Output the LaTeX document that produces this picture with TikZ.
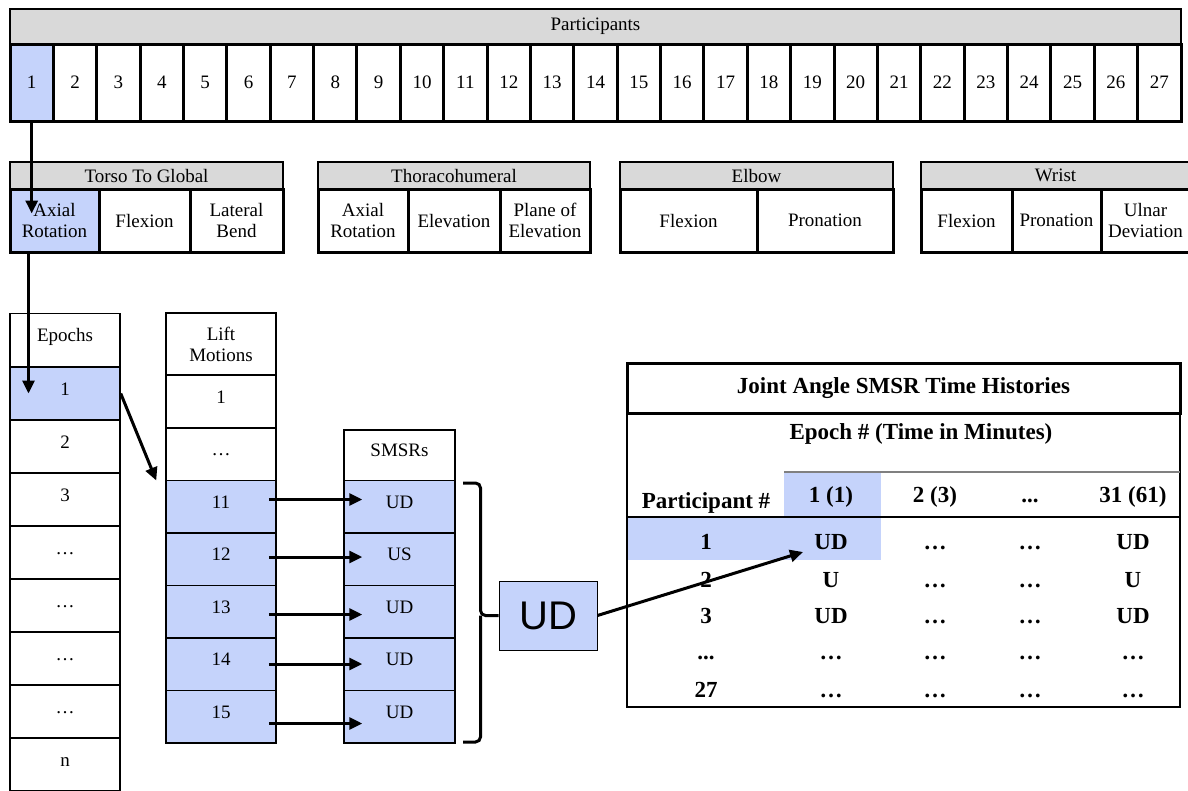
\documentclass[tikz,border=0pt]{standalone}
\usepackage{fontspec}
\setmainfont{Liberation Serif}
\newfontfamily\udfont{Liberation Sans}
\usetikzlibrary{arrows.meta,calc}
\definecolor{selblue}{RGB}{197,211,251}
\definecolor{hdrgray}{RGB}{217,217,217}
\tikzset{
  box/.style={draw, inner sep=0pt, align=center, font=\fontsize{19}{21}\selectfont},
  hdr/.style={box, fill=hdrgray, line width=1.5pt, minimum height=27pt},
  pcell/.style={box, line width=3pt, minimum width=43.37pt, minimum height=77pt},
  jcell/.style={box, line width=3pt, minimum height=63pt},
  ccell/.style={box, line width=1.5pt, minimum width=110pt, minimum height=53pt},
  raise/.style={text height=13pt, text depth=10pt},
  sel/.style={fill=selblue},
  arr/.style={line width=3pt, -{Triangle[length=13pt,width=12pt]}},
  tbl/.style={anchor=base, inner sep=0pt, font=\fontsize{23}{25}\selectfont\bfseries},
}

\begin{document}
\begin{tikzpicture}[x=1pt,y=-1pt]
\useasboundingbox (0,0) rectangle (1188,790);
\clip (0,0) rectangle (1188,790);

\node[hdr, minimum width=1171pt, minimum height=35pt] (parts) at (595.5,26.5) {Participants};
\node[pcell, sel] (p1) at (31.7,82.5) {1};
\foreach \i in {2,...,27}
  \node[pcell] (p\i) at ({10+43.37*(\i-0.5)},82.5) {\i};

\node[hdr, minimum width=273pt] (torso) at (146.5,175.5) {Torso To Global};
\node[jcell, sel, minimum width=89pt] (ax1) at (54.5,220.5) {Axial\\Rotation};
\node[jcell, minimum width=91pt] (flx1) at (144.5,220.5) {Flexion};
\node[jcell, minimum width=93pt] (lat1) at (236.5,220.5) {Lateral\\Bend};

\node[hdr, minimum width=272pt] (thor) at (454,175.5) {Thoracohumeral};
\node[jcell, minimum width=90pt] (ax2) at (363,220.5) {Axial\\Rotation};
\node[jcell, minimum width=92pt] (elev2) at (454,220.5) {Elevation};
\node[jcell, minimum width=90pt] (poe2) at (545,220.5) {Plane of\\Elevation};

\node[hdr, minimum width=273pt] (elbow) at (756.5,175.5) {Elbow};
\node[jcell, minimum width=137pt] (flx3) at (688.5,220.5) {Flexion};
\node[jcell, minimum width=136pt] (pro3) at (825,220.5) {Pronation};

\node[hdr, minimum width=269pt] (wrist) at (1055.5,175.5) {Wrist};
\node[jcell, minimum width=91pt] (flx4) at (966.5,220.5) {Flexion};
\node[jcell, minimum width=89pt] (pro4) at (1056.5,220.5) {Pronation};
\node[jcell, minimum width=89pt] (uln4) at (1145.5,220.5) {Ulnar\\Deviation};

\node[ccell, raise] (ep) at (65,340) {Epochs};
\node[ccell, raise, sel] (e1) at (65,393.5) {1};
\foreach \i/\t in {2/2,3/3,4/…,5/…,6/…,7/…,8/n}
  \node[ccell, raise] (e\i) at (65,{340.5+53*\i}) {\t};

\node[ccell, minimum height=62pt] (lm) at (221,344) {Lift\\Motions};
\node[ccell, raise, minimum height=52.5pt] (l1) at (221,401.5) {1};
\node[ccell, raise, minimum height=52.5pt] (l2) at (221,454) {…};
\foreach \i [count=\k] in {11,...,15}
  \node[ccell, raise, sel, minimum height=52.5pt] (l\i) at (221,{454+52.5*\k}) {\i};

\node[ccell, raise, minimum width=111pt, minimum height=50.5pt] (sm) at (399.5,455) {SMSRs};
\foreach \i/\t [count=\k] in {11/UD,12/US,13/UD,14/UD,15/UD}
  \node[ccell, raise, sel, minimum width=111pt, minimum height=52.5pt] (s\i) at (399.5,{454+52.5*\k}) {\t};

\foreach \i/\d in {11/-7,12/-2,13/3,14/0,15/7}
  \draw[arr] ([shift={(-8,\d)}]l\i.east) -- ([shift={(19,\d)}]s\i.west);

\node[draw, line width=1pt, sel, minimum width=98pt, minimum height=69pt, inner sep=0pt,
  font=\udfont\fontsize{40}{40}\selectfont] (ud) at (548,615.5) {UD};
\coordinate (btop) at (463,483);
\coordinate (bbot) at (463,742);
\draw[line width=3pt, rounded corners=5pt] (btop) -| ($(ud.west)+(-18,0)$) -- (ud.west);
\draw[line width=3pt, rounded corners=5pt] (bbot) -| ($(ud.west)+(-18,0)$);

\fill[selblue] (784,472) rectangle (881,517);
\fill[selblue] (628,517) rectangle (881,560);
\node[draw, line width=1.5pt, minimum width=553pt, minimum height=294pt, inner sep=0pt] (tbox) at (903.5,560) {};
\node[draw, line width=3pt, minimum width=553pt, minimum height=50pt, inner sep=0pt,
  font=\fontsize{23}{25}\selectfont\bfseries] (ttl) at (903.5,388) {Joint Angle SMSR Time Histories};
\draw[gray, line width=1.5pt] (784,472) -- (1180,472);
\draw[line width=1.5pt] (627,517) -- (1180,517);

\node[tbl] (teh) at (921,439) {Epoch \# (Time in Minutes)};
\node[tbl] (th0) at (706,508) {Participant \#};
\node[tbl] (th1) at (831,502) {1 (1)};
\node[tbl] (th2) at (935,502) {2 (3)};
\node[tbl] (th3) at (1030,502) {...};
\node[tbl] (th4) at (1133,502) {31 (61)};
\node[tbl] (t10) at (706,549) {1}; \node[tbl] (t11) at (831,549) {UD};
\node[tbl] (t12) at (935,549) {…}; \node[tbl] (t13) at (1030,549) {…}; \node[tbl] (t14) at (1133,549) {UD};
\node[tbl] (t20) at (706,587) {2}; \node[tbl] (t21) at (831,587) {U};
\node[tbl] (t22) at (935,587) {…}; \node[tbl] (t23) at (1030,587) {…}; \node[tbl] (t24) at (1133,587) {U};
\node[tbl] (t30) at (706,623) {3}; \node[tbl] (t31) at (831,623) {UD};
\node[tbl] (t32) at (935,623) {…}; \node[tbl] (t33) at (1030,623) {…}; \node[tbl] (t34) at (1133,623) {UD};
\node[tbl] (t40) at (706,659) {...}; \node[tbl] (t41) at (831,659) {…};
\node[tbl] (t42) at (935,659) {…}; \node[tbl] (t43) at (1030,659) {…}; \node[tbl] (t44) at (1133,659) {…};
\node[tbl] (t50) at (706,697) {27}; \node[tbl] (t51) at (831,697) {…};
\node[tbl] (t52) at (935,697) {…}; \node[tbl] (t53) at (1030,697) {…}; \node[tbl] (t54) at (1133,697) {…};

\draw[arr] (p1.south) -- ($(p1.south |- ax1.center)+(0,-7)$);
\draw[arr] ([xshift=-26pt]ax1.south) -- ([xshift=-26pt]ax1.south |- e1.center);
\draw[arr] (e1.east) -- ($(l11.north west)+(-9,1)$);
\draw[arr] (ud.east) -- ([shift={(-28,3)}]t11.base);
\end{tikzpicture}
\end{document}
